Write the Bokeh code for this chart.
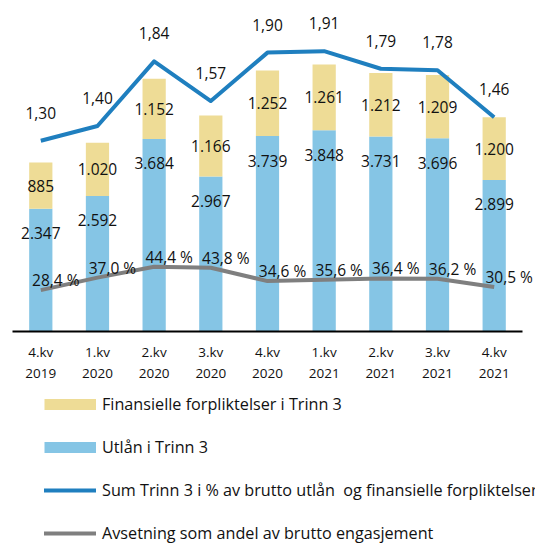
from bokeh.plotting import figure
from bokeh.models import (ColumnDataSource, Range1d, LabelSet, FixedTicker,
                          Legend, LegendItem)
from bokeh.embed import file_html
from bokeh.resources import INLINE
from bokeh.core.properties import value

# ---- data ----
quarters = ["4.kv\n2019", "1.kv\n2020", "2.kv\n2020", "3.kv\n2020", "4.kv\n2020",
            "1.kv\n2021", "2.kv\n2021", "3.kv\n2021", "4.kv\n2021"]
utlan = [2347, 2592, 3684, 2967, 3739, 3848, 3731, 3696, 2899]
finans = [885, 1020, 1152, 1166, 1252, 1261, 1212, 1209, 1200]
sum_pct = [1.30, 1.40, 1.84, 1.57, 1.90, 1.91, 1.79, 1.78, 1.46]
avsetning = [28.4, 37.0, 44.4, 43.8, 34.6, 35.6, 36.4, 36.2, 30.5]

legend_labels = ["Finansielle forpliktelser i Trinn 3",
                 "Utlån i Trinn 3",
                 "Sum Trinn 3 i % av brutto utlån  og finansielle forpliktelser",
                 "Avsetning som andel av brutto engasjement"]

YELLOW = "#EEDC96"
BLUE = "#85C5E5"
LBLUE = "#1F7FBF"
GREY = "#7F7F7F"
FONT = "Open Sans"


def fmt_int(v):
    return f"{v:,}".replace(",", ".")


def fmt_dec(v, n):
    return f"{v:.{n}f}".replace(".", ",")


xs = list(range(len(quarters)))
src = ColumnDataSource(dict(
    x=xs, utlan=utlan, finans=finans,
    total=[a + b for a, b in zip(utlan, finans)],
    mid=[a + b / 2 for a, b in zip(utlan, finans)],
    sum_pct=sum_pct, avs=avsetning,
    utlan_lbl=[fmt_int(v) for v in utlan],
    finans_lbl=[fmt_int(v) for v in finans],
    sum_lbl=[fmt_dec(v, 2) for v in sum_pct],
    avs_lbl=[fmt_dec(v, 1) + " %" for v in avsetning],
))

# frame fills the whole canvas; baseline (y=0) sits 331 px from the top
p = figure(width=535, height=543, x_range=Range1d(-0.711, 8.729),
           y_range=Range1d(-4055, 6331), output_backend="svg",
           toolbar_location=None, y_axis_location=None,
           min_border_left=0, min_border_right=0, min_border_top=0,
           min_border_bottom=0, outline_line_color=None)
p.extra_y_ranges = {"sum": Range1d(-1.444, 2.255), "avs": Range1d(-145.6, 227.3)}

p.vbar(x="x", bottom=0, top="utlan", width=0.41, source=src,
       fill_color=BLUE, line_color=None)
p.vbar(x="x", bottom="utlan", top="total", width=0.41, source=src,
       fill_color=YELLOW, line_color=None)
p.line(x="x", y="sum_pct", source=src, y_range_name="sum",
       line_color=LBLUE, line_width=4, line_join="round")
p.line(x="x", y="avs", source=src, y_range_name="avs",
       line_color=GREY, line_width=4, line_join="round")

txt = dict(text_font=value(FONT), text_font_size="15.5px", text_color="#111111",
           text_align="center", text_baseline="middle")
p.add_layout(LabelSet(x="x", y="utlan", text="utlan_lbl", source=src,
                      y_offset=-24.5, **txt))
p.add_layout(LabelSet(x="x", y="mid", text="finans_lbl", source=src, **txt))
p.add_layout(LabelSet(x="x", y="sum_pct", text="sum_lbl", source=src,
                      y_range_name="sum", y_offset=28, **txt))
p.add_layout(LabelSet(x="x", y="avs", text="avs_lbl", source=src,
                      y_range_name="avs", x_offset=15, y_offset=10, **txt))

p.xgrid.visible = False
p.ygrid.visible = False
xa = p.xaxis[0]
xa.fixed_location = 0
xa.ticker = FixedTicker(ticks=xs)
xa.major_label_overrides = {i: q for i, q in zip(xs, quarters)}
xa.bounds = (-0.5, 8.5)
xa.axis_line_color = "black"
xa.axis_line_width = 2
xa.major_tick_line_color = None
xa.minor_tick_line_color = None
xa.major_tick_out = 0
xa.major_tick_in = 0
xa.minor_tick_out = 0
xa.minor_tick_in = 0
xa.major_label_text_font = FONT
xa.major_label_text_font_size = "13.5px"
xa.major_label_text_color = "#111111"
xa.major_label_text_line_height = 1.16
xa.major_label_standoff = 12

# ---- legend (dummy renderers carry the legend styles) ----
nan = float("nan")
empty = ColumnDataSource(dict(x=[nan, nan], y=[nan, nan]))
r1 = p.line("x", "y", source=empty, line_color=YELLOW, line_width=11, line_cap="butt")
r2 = p.line("x", "y", source=empty, line_color=BLUE, line_width=11, line_cap="butt")
r3 = p.line("x", "y", source=empty, line_color=LBLUE, line_width=4, line_cap="round")
r4 = p.line("x", "y", source=empty, line_color=GREY, line_width=4, line_cap="round")
leg = Legend(items=[LegendItem(label=legend_labels[0], renderers=[r1]),
                    LegendItem(label=legend_labels[1], renderers=[r2]),
                    LegendItem(label=legend_labels[2], renderers=[r3]),
                    LegendItem(label=legend_labels[3], renderers=[r4])],
             location=(44, -1), margin=0, padding=0, spacing=21,
             glyph_width=52, glyph_height=20, label_height=20,
             label_standoff=6, label_text_font=FONT,
             label_text_font_size="16.2px", label_text_color="#111111",
             border_line_alpha=0, background_fill_alpha=0)
p.add_layout(leg, "center")

open("out.html", "w").write(file_html(p, INLINE))
